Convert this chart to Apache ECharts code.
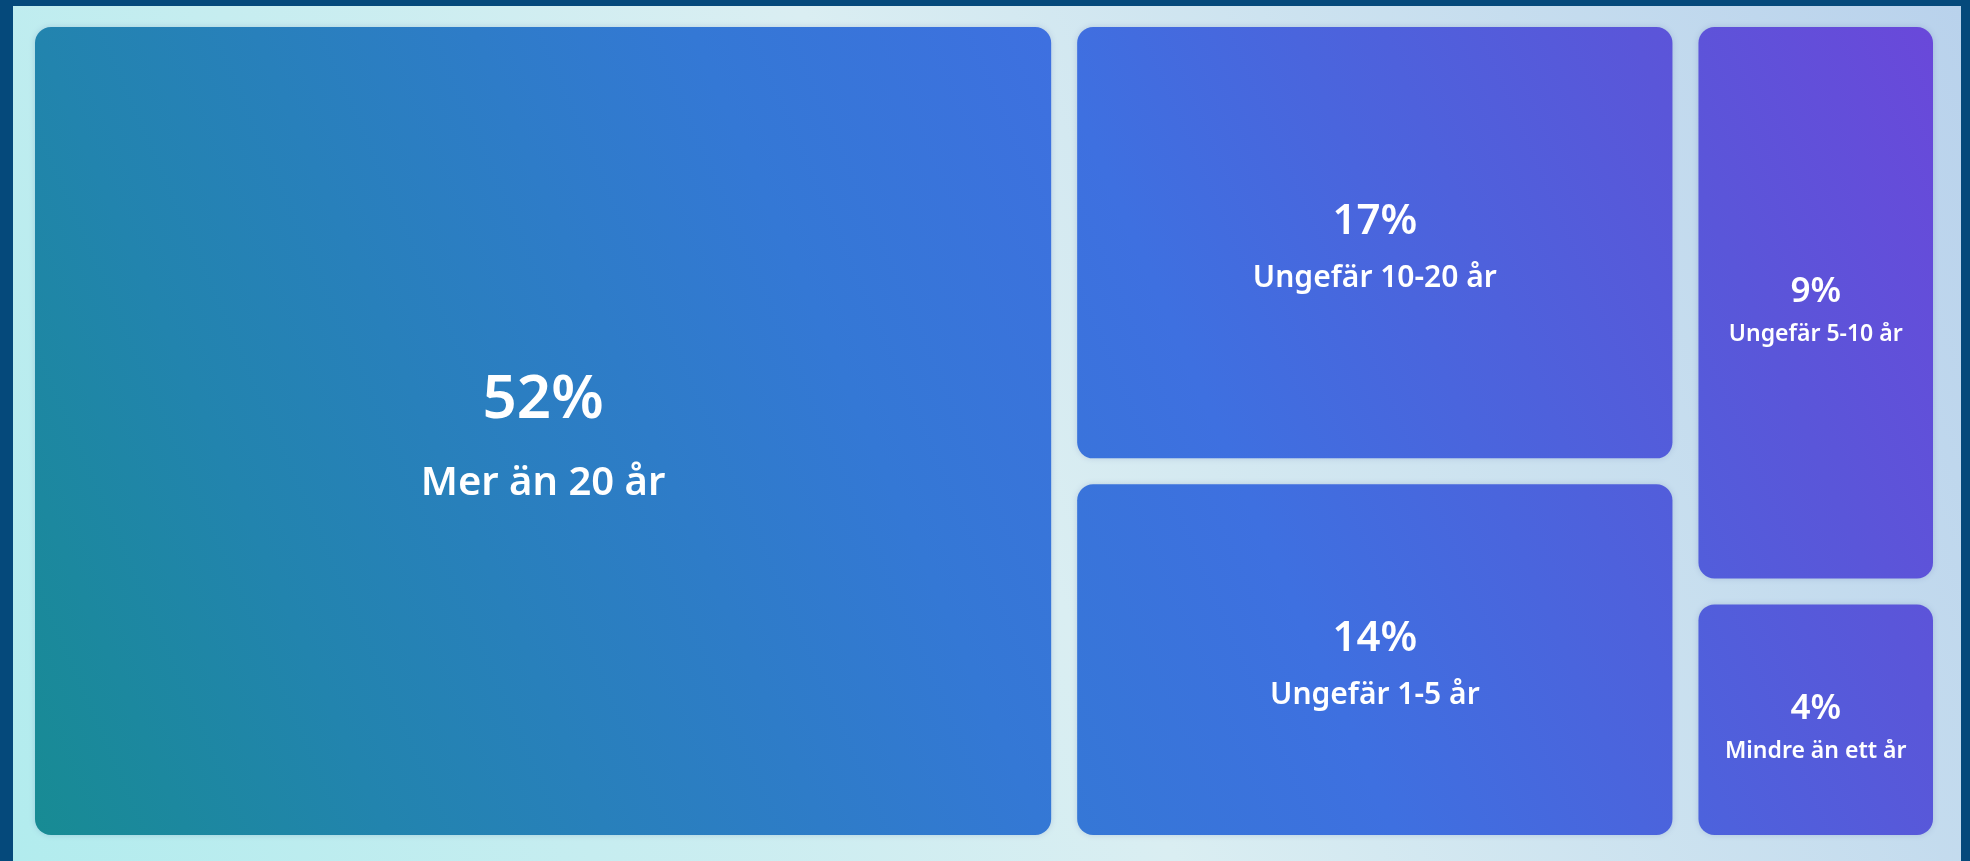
<!DOCTYPE html>
<html>
<head>
<meta charset="utf-8">
<script src="https://cdn.jsdelivr.net/npm/echarts@6/dist/echarts.min.js"></script>
<style>
html,body{margin:0;padding:0;background:#05497b;}
#c{width:1970px;height:861px;}
</style>
</head>
<body>
<div id="c"></div>
<script>
// Data
const categories = ['Mer än 20 år', 'Ungefär 10-20 år', 'Ungefär 1-5 år', 'Ungefär 5-10 år', 'Mindre än ett år'];
const shares = [52, 17, 14, 9, 4];

const chart = echarts.init(document.getElementById('c'));

const W = 1970, H = 861;
const gradStops = [
  { offset: 0, color: '#168c90' },
  { offset: 0.17, color: '#2284ae' },
  { offset: 0.45, color: '#3478d5' },
  { offset: 0.6, color: '#3e70e0' },
  { offset: 0.85, color: '#5a56d9' },
  { offset: 1, color: '#6c46da' }
];
// gradient in page coordinates, shifted into a tile's local frame
function tileGradient(ox, oy) {
  return { type: 'linear', global: true, x: 0 - ox, y: H - oy, x2: W - ox, y2: 0 - oy, colorStops: gradStops };
}

function tier(v) { return v >= 40 ? 'L' : (v >= 12 ? 'M' : 'S'); }
const blockHeight = { L: 166, M: 114, S: 85 };

const fontFamily = '"Noto Sans", "Open Sans", sans-serif';
const rich = {
  pL: { fontSize: 60, lineHeight: 106, fontWeight: 600, color: '#ffffff', fontFamily },
  nL: { fontSize: 40, lineHeight: 60, fontWeight: 600, color: '#ffffff', fontFamily },
  pM: { fontSize: 42, lineHeight: 72, fontWeight: 600, color: '#ffffff', fontFamily },
  nM: { fontSize: 30, lineHeight: 42, fontWeight: 600, color: '#ffffff', fontFamily },
  pS: { fontSize: 35, lineHeight: 64, fontWeight: 600, color: '#ffffff', fontFamily },
  nS: { fontSize: 23, lineHeight: 21, fontWeight: 600, color: '#ffffff', fontFamily }
};

const data = categories.map((name, i) => ({ name: name, value: shares[i] }));

chart.setOption({
  backgroundColor: '#05497b',
  animation: false,
  graphic: [{
    type: 'rect', z: -10, silent: true,
    shape: { x: 13, y: 6, width: 1948, height: 855 },
    style: {
      fill: {
        type: 'linear', x: 0, y: 1, x2: 1, y2: 0,
        colorStops: [
          { offset: 0, color: '#b2ecee' },
          { offset: 0.5, color: '#daeef2' },
          { offset: 1, color: '#b9d2ec' }
        ]
      }
    }
  }],
  series: [{
    type: 'treemap',
    left: 35, top: 27, right: 37, bottom: 26,
    roam: false,
    nodeClick: false,
    breadcrumb: { show: false },
    sort: 'desc',
    squareRatio: 0.5 * (1 + Math.sqrt(5)),
    itemStyle: { gapWidth: 26, borderWidth: 0, borderColor: 'rgba(0,0,0,0)', color: '#3478d5' },
    levels: [
      { itemStyle: { gapWidth: 26, borderWidth: 0, borderColor: 'rgba(0,0,0,0)', color: 'rgba(0,0,0,0)' } },
      { itemStyle: { borderWidth: 0, borderRadius: 16, borderColor: 'rgba(0,0,0,0)', shadowBlur: 6, shadowColor: 'rgba(40,60,140,0.18)' } }
    ],
    label: {
      show: true,
      position: 'inside',
      align: 'center',
      overflow: 'none',
      formatter: function (p) {
        const t = tier(p.value);
        return '{p' + t + '|' + p.value + '%}\n{n' + t + '|' + p.name + '}';
      },
      rich: rich
    },
    emphasis: { disabled: true },
    data: data
  }]
});

// Second pass: use the library's own layout to place the global gradient and centre the labels
const seriesModel = chart.getModel().getSeriesByIndex(0);
const tree = seriesModel.getData().tree;
const root = tree.root;
const rl = root.getLayout() || { x: 0, y: 0 };
const info = seriesModel.layoutInfo || { x: 35, y: 27 };
const styled = categories.map((name, i) => {
  const node = root.children.find(n => n.name === name);
  const l = node.getLayout();
  const ax = info.x + rl.x + l.x;
  const ay = info.y + rl.y + l.y;
  const padTop = Math.max(0, (l.height - blockHeight[tier(shares[i])]) / 2);
  return {
    name: name,
    value: shares[i],
    itemStyle: { color: tileGradient(ax, ay) },
    label: { padding: [padTop, 0, 0, 0] }
  };
});
chart.setOption({ series: [{ data: styled }] });
</script>
</body>
</html>
